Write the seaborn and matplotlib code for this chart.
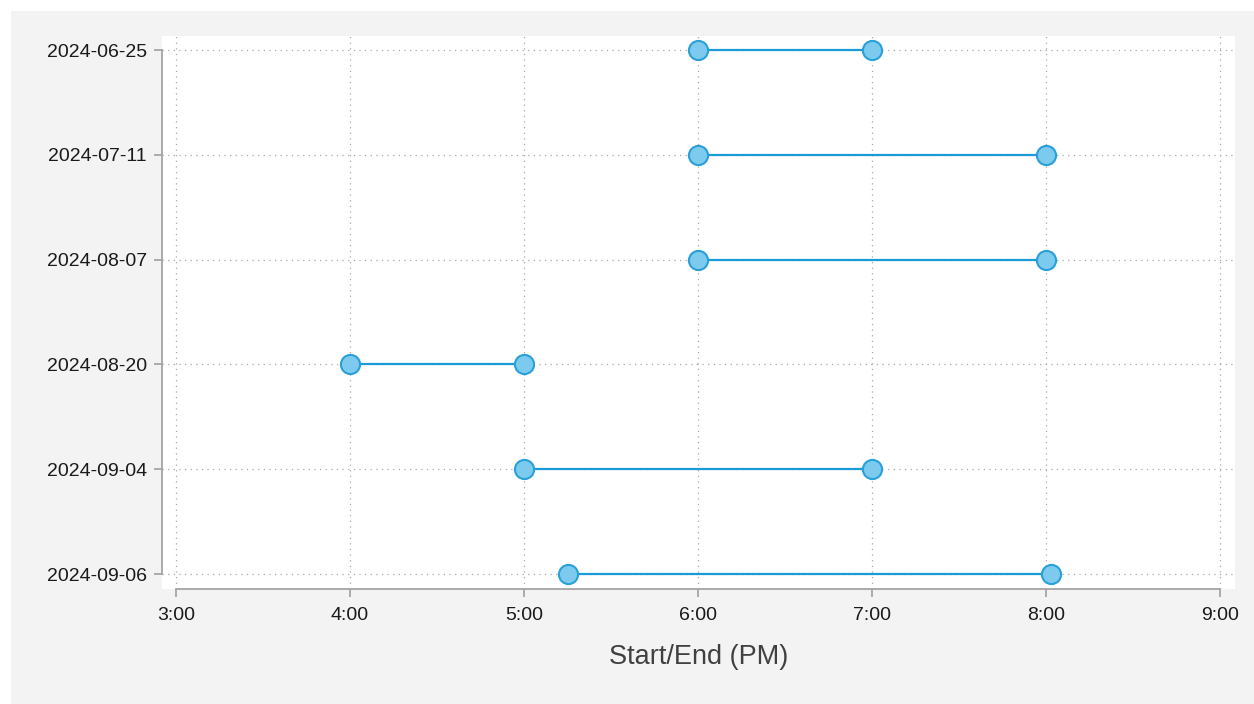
import matplotlib
matplotlib.use("Agg")
import matplotlib.pyplot as plt
import matplotlib.patches as mpatches
from matplotlib.ticker import FuncFormatter
import seaborn as sns
import pandas as pd

# data: start/end times in hours (PM)
dates = ["2024-06-25", "2024-07-11", "2024-08-07", "2024-08-20", "2024-09-04", "2024-09-06"]
start = [6.0, 6.0, 6.0, 4.0, 5.0, 5.25]
end = [7.0, 8.0, 8.0, 5.0, 7.0, 8.03]
xticks = [3, 4, 5, 6, 7, 8, 9]

df = pd.DataFrame({"date": dates, "start": start, "end": end})
long_df = df.melt(id_vars="date", value_vars=["start", "end"], value_name="time")

sns.set_theme(style="white")
plt.rcParams["font.family"] = ["Liberation Sans", "DejaVu Sans"]

fig = plt.figure(figsize=(12.54, 7.04), dpi=100, facecolor="white")
# gray background panel (the outer white strip stays top/left)
fig.patches.append(mpatches.Rectangle((11 / 1254, 0), 1, 1 - 11 / 704,
                                      transform=fig.transFigure, facecolor="#f3f3f3",
                                      edgecolor="none", zorder=-10))
ax = fig.add_axes([162 / 1254, 1 - 589 / 704, 1073 / 1254, 553 / 704])
ax.set_zorder(1)
ax.set_facecolor("white")

line_col = "#1a9bd7"
sns.lineplot(data=long_df, x="time", y="date", units="date", estimator=None,
             color=line_col, linewidth=1.6, ax=ax, zorder=2)
sns.scatterplot(data=long_df, x="time", y="date", s=190, color="#7ccaee",
                edgecolor="#2aa0d8", linewidth=1.5, ax=ax, zorder=3)

ax.set_xlim(2.9195, 9.086)
ax.set_ylim(5.143, -0.134)
ax.set_xticks(xticks)
ax.xaxis.set_major_formatter(FuncFormatter(lambda v, p: f"{int(v)}:{int(round((v % 1) * 60)):02d}"))

ax.grid(True, linestyle=(0, (1, 3.5)), color="#a8a8a8", linewidth=0.9)
ax.set_axisbelow(True)

for s in ["top", "right"]:
    ax.spines[s].set_visible(False)
for s in ["left", "bottom"]:
    ax.spines[s].set_color("#a5a5a5")
    ax.spines[s].set_linewidth(1.3)
ax.spines["left"].set_bounds(0, 5)
ax.spines["bottom"].set_bounds(3, 9)

ax.tick_params(axis="both", direction="out", length=6, width=1.3, color="#a5a5a5",
               labelsize=14, labelcolor="#1a1a1a", pad=5, left=True, bottom=True)
ax.tick_params(axis="x", pad=7)

ax.set_xlabel("Start/End (PM)", fontsize=19.5, color="#404040", labelpad=14)
ax.set_ylabel("")

fig.savefig("out.png", dpi=100, facecolor=fig.get_facecolor())
